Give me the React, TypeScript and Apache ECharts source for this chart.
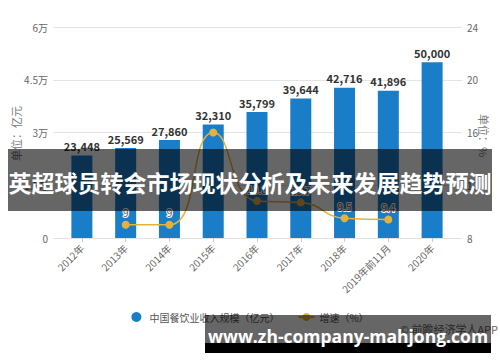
import React, { useEffect, useRef } from "react";
import * as echarts from "echarts";

const categories = ["2012年", "2013年", "2014年", "2015年", "2016年", "2017年", "2018年", "2019年前11月", "2020年"];
const revenue = [23448, 25569, 27860, 32310, 35799, 39644, 42716, 41896, 50000];
const growth: (number | null)[] = [null, 9.0, 9.0, 16.0, 10.8, 10.7, 9.5, 9.4, null];
const hiddenGrowthLabels = ["2015年"];
const leftTicks = ["0", "1.5万", "3万", "4.5万", "6万"];

const FONT = "'Noto Sans CJK SC', 'Noto Sans', sans-serif";

export default function App() {
  const ref = useRef<HTMLDivElement>(null);
  useEffect(() => {
    if (!ref.current) return;
    const chart = echarts.init(ref.current, undefined, { renderer: "svg" });
    const top = 27;
    const bottom = 124;
    chart.setOption({
      animation: false,
      textStyle: { fontFamily: FONT },
      grid: [
        { left: 53, right: 38, top, bottom },
        { left: 60, right: 46, top, bottom },
      ],
      legend: {
        top: 307,
        left: "center",
        itemGap: 18,
        itemWidth: 16,
        itemHeight: 10,
        textStyle: { color: "#555", fontSize: 10, fontFamily: FONT },
        data: [
          { name: "中国餐饮业收入规模（亿元）", icon: "circle" },
          { name: "增速（%）" },
        ],
      },
      xAxis: [
        { gridIndex: 0, type: "category", data: categories, show: false },
        {
          gridIndex: 1,
          type: "category",
          data: categories,
          axisLine: { show: false },
          axisTick: { show: true, alignWithLabel: true, length: 4, lineStyle: { color: "#ccc" } },
          axisLabel: { rotate: 45, color: "#666", fontSize: 10, margin: 8, interval: 0 },
        },
      ],
      yAxis: [
        {
          gridIndex: 0,
          type: "value",
          min: 0,
          max: 60000,
          interval: 15000,
          axisLine: { show: false },
          axisTick: { show: false },
          splitLine: { lineStyle: { color: "#e3e3e3" } },
          axisLabel: {
            color: "#666",
            fontSize: 10,
            margin: 5,
            formatter: (v: number) => leftTicks[Math.round(v / 15000)],
          },
        },
        {
          gridIndex: 0,
          type: "value",
          position: "right",
          min: 8,
          max: 24,
          interval: 4,
          axisLine: { show: false },
          axisTick: { show: false },
          splitLine: { show: false },
          axisLabel: { color: "#666", fontSize: 10, margin: 5 },
        },
        { gridIndex: 1, type: "value", min: 0, max: 60000, show: false, splitLine: { show: false } },
        { gridIndex: 1, type: "value", min: 8, max: 24, show: false, position: "right", splitLine: { show: false } },
      ],
      series: [
        {
          name: "中国餐饮业收入规模（亿元）",
          type: "bar",
          xAxisIndex: 1,
          yAxisIndex: 2,
          data: revenue,
          barWidth: 21,
          itemStyle: { color: "#1a7dc8" },
          label: {
            show: true,
            position: "top",
            distance: 4,
            color: "#333",
            fontSize: 11,
            fontWeight: "bold",
            formatter: (p: any) => Number(p.value).toLocaleString("en-US"),
          },
        },
        {
          name: "增速（%）",
          type: "line",
          xAxisIndex: 1,
          yAxisIndex: 3,
          smooth: true,
          data: growth.map((v, i) => ({
            value: v,
            label: { show: !hiddenGrowthLabels.includes(categories[i]) },
          })),
          symbol: "circle",
          symbolSize: 8,
          lineStyle: { color: "#e3b23c", width: 1.5 },
          itemStyle: { color: "#e3b23c" },
          label: {
            show: true,
            position: "top",
            distance: 3,
            color: "#555",
            fontSize: 10,
            textBorderColor: "#fff",
            textBorderWidth: 2,
          },
        },
      ],
      graphic: [
        {
          type: "text",
          left: 10,
          top: 106,
          rotation: Math.PI / 2,
          style: { text: "单位：亿元", fill: "#777", fontSize: 11, fontFamily: FONT },
          z: 5,
        },
        {
          type: "text",
          x: 489,
          y: 114,
          rotation: -Math.PI / 2,
          style: { text: "单位：%", fill: "#777", fontSize: 11, fontFamily: FONT },
          z: 5,
        },
        {
          type: "text",
          x: 498,
          y: 329,
          style: {
            text: "© 前瞻经济学人APP",
            fill: "#666",
            fontSize: 11,
            fontFamily: FONT,
            align: "right",
            verticalAlign: "middle",
          },
          z: 5,
        },
        {
          type: "rect",
          shape: { x: 8, y: 149, width: 484, height: 62 },
          style: { fill: "rgba(0,0,0,0.6)" },
          z: 100,
        },
        {
          type: "text",
          x: 250,
          y: 182,
          style: {
            text: "英超球员转会市场现状分析及未来发展趋势预测",
            fill: "#fff",
            fontSize: 23,
            fontWeight: "bold",
            fontFamily: FONT,
            align: "center",
            verticalAlign: "middle",
          },
          z: 101,
        },
        {
          type: "rect",
          shape: { x: 205, y: 315, width: 286, height: 28 },
          style: { fill: "rgba(0,0,0,0.6)" },
          z: 100,
        },
        {
          type: "rect",
          shape: { x: 205, y: 343, width: 286, height: 10 },
          style: { fill: "#000" },
          z: 100,
        },
        {
          type: "text",
          x: 348,
          y: 336,
          style: {
            text: "www.zh-company-mahjong.com",
            fill: "#fff",
            fontSize: 17.5,
            fontWeight: "bold",
            fontFamily: "'Open Sans', 'Noto Sans', sans-serif",
            align: "center",
            verticalAlign: "middle",
          },
          z: 101,
        },
      ],
    });
    return () => chart.dispose();
  }, []);
  return <div ref={ref} style={{ position: "absolute", left: 0, top: 0, width: 500, height: 362 }} />;
}
